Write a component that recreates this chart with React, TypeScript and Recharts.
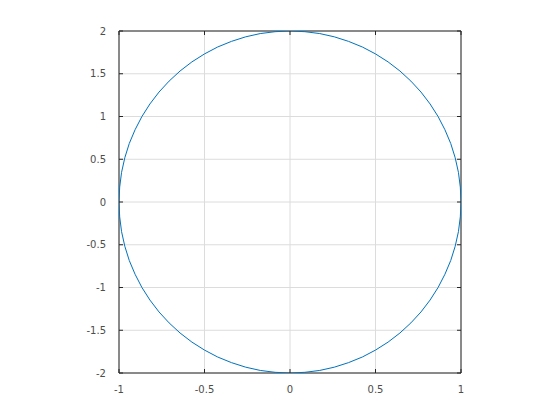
import React from 'react';
import { ScatterChart, Scatter, XAxis, YAxis, CartesianGrid } from 'recharts';

// points, going round counter-clockwise from (1, 0)
const xs = [
  1, 0.996, 0.985, 0.966, 0.94, 0.906, 0.866, 0.819, 0.766, 0.707, 0.643, 0.574, 0.5,
  0.423, 0.342, 0.259, 0.174, 0.087, 0,
  -0.087, -0.174, -0.259, -0.342, -0.423, -0.5, -0.574, -0.643, -0.707, -0.766, -0.819,
  -0.866, -0.906, -0.94, -0.966, -0.985, -0.996, -1,
  -0.996, -0.985, -0.966, -0.94, -0.906, -0.866, -0.819, -0.766, -0.707, -0.643, -0.574,
  -0.5, -0.423, -0.342, -0.259, -0.174, -0.087, 0,
  0.087, 0.174, 0.259, 0.342, 0.423, 0.5, 0.574, 0.643, 0.707, 0.766, 0.819,
  0.866, 0.906, 0.94, 0.966, 0.985, 0.996, 1,
];
const ys = [
  0, 0.174, 0.347, 0.518, 0.684, 0.845, 1.0, 1.147, 1.286, 1.414, 1.532, 1.638, 1.732,
  1.813, 1.879, 1.932, 1.97, 1.992, 2,
  1.992, 1.97, 1.932, 1.879, 1.813, 1.732, 1.638, 1.532, 1.414, 1.286, 1.147,
  1.0, 0.845, 0.684, 0.518, 0.347, 0.174, 0,
  -0.174, -0.347, -0.518, -0.684, -0.845, -1.0, -1.147, -1.286, -1.414, -1.532, -1.638,
  -1.732, -1.813, -1.879, -1.932, -1.97, -1.992, -2,
  -1.992, -1.97, -1.932, -1.879, -1.813, -1.732, -1.638, -1.532, -1.414, -1.286, -1.147,
  -1.0, -0.845, -0.684, -0.518, -0.347, -0.174, 0,
];
const xTicks = [-1, -0.5, 0, 0.5, 1];
const yTicks = [-2, -1.5, -1, -0.5, 0, 0.5, 1, 1.5, 2];

const points = xs.map((x, i) => ({ x, y: ys[i] }));

const axisColor = '#262626';
const PLOT = 342; // square plot box, px
const MARGIN = 12;
const TICK = 4;

// label plus inward tick marks on the bottom and top edges
const XTick = ({ x, y, payload }: any) => {
  const base = y - MARGIN;
  return (
    <g>
      <line x1={x} x2={x} y1={base} y2={base - TICK} stroke={axisColor} />
      <line x1={x} x2={x} y1={base - PLOT} y2={base - PLOT + TICK} stroke={axisColor} />
      <text x={x} y={y} dy={8} textAnchor="middle" fill="#4d4d4d" fontSize={10} fontFamily="DejaVu Sans">
        {payload.value}
      </text>
    </g>
  );
};

// label plus inward tick marks on the left and right edges
const YTick = ({ x, y, payload }: any) => {
  const base = x + MARGIN;
  return (
    <g>
      <line x1={base} x2={base + TICK} y1={y} y2={y} stroke={axisColor} />
      <line x1={base + PLOT} x2={base + PLOT - TICK} y1={y} y2={y} stroke={axisColor} />
      <text x={x - 1} y={y} dy={3.5} textAnchor="end" fill="#4d4d4d" fontSize={10} fontFamily="DejaVu Sans">
        {payload.value}
      </text>
    </g>
  );
};

export default function App() {
  return (
    <div style={{ position: 'absolute', left: 0, top: 0, width: 560, height: 420, background: '#fff' }}>
      <ScatterChart width={560} height={420} margin={{ top: 31, right: 99, bottom: 17, left: 89 }}>
        <CartesianGrid stroke="#dcdcdc" strokeWidth={1} />
        <CartesianGrid stroke={axisColor} horizontalValues={[2]} verticalValues={[1]} />
        <XAxis
          type="number"
          dataKey="x"
          domain={[-1, 1]}
          ticks={xTicks}
          allowDataOverflow
          height={30}
          stroke={axisColor}
          tickLine={false}
          tickSize={0}
          tickMargin={MARGIN}
          tick={<XTick />}
        />
        <YAxis
          type="number"
          dataKey="y"
          domain={[-2, 2]}
          ticks={yTicks}
          allowDataOverflow
          width={30}
          stroke={axisColor}
          tickLine={false}
          tickSize={0}
          tickMargin={MARGIN}
          tick={<YTick />}
        />
        <Scatter
          data={points}
          line={{ stroke: '#0072bd', strokeWidth: 1 }}
          lineType="joint"
          shape={() => <g />}
          fill="none"
          isAnimationActive={false}
        />
      </ScatterChart>
    </div>
  );
}
